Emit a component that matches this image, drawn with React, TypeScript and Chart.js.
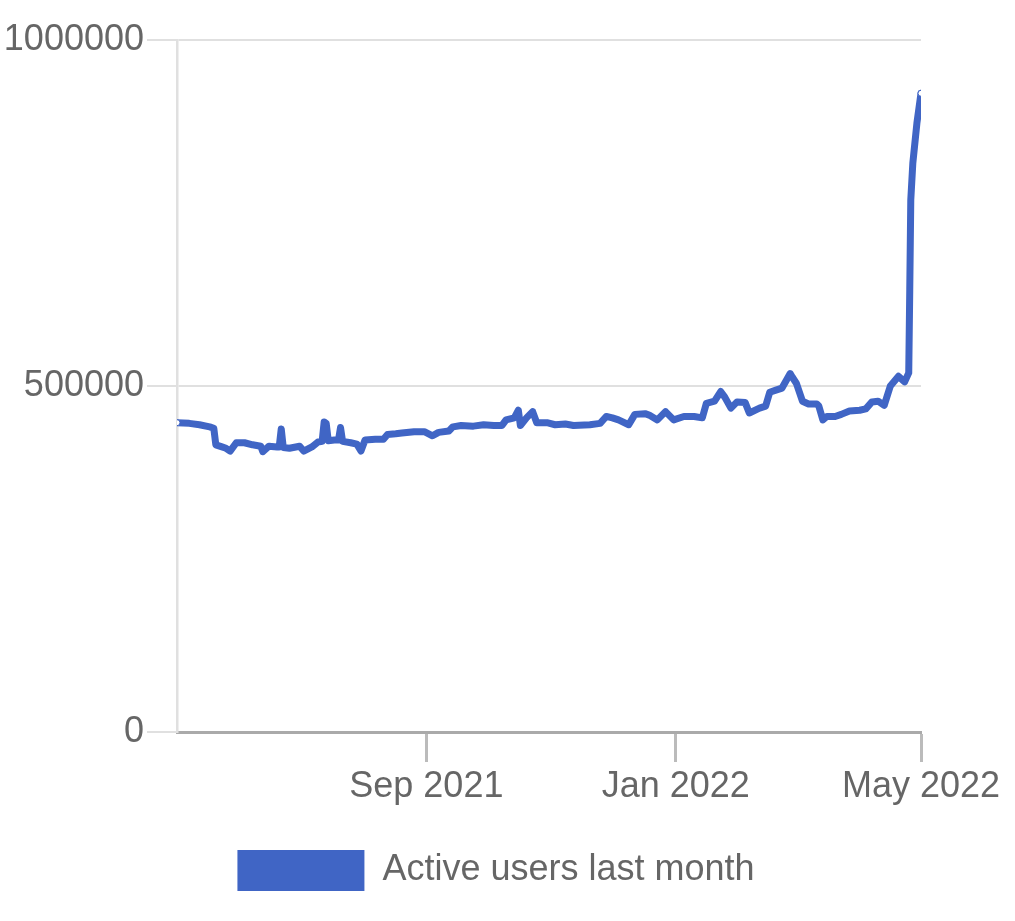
import React, { useEffect, useRef } from "react";
import { Chart, registerables } from "chart.js";

Chart.register(...registerables);

const seriesLabel = "Active users last month";

const dates: string[] = [
  "2021-05-02", "2021-05-08", "2021-05-13", "2021-05-18", "2021-05-20", "2021-05-21",
  "2021-05-24", "2021-05-26", "2021-05-28", "2021-05-31", "2021-06-04", "2021-06-08",
  "2021-06-12", "2021-06-13", "2021-06-16", "2021-06-20", "2021-06-21", "2021-06-22",
  "2021-06-23", "2021-06-26", "2021-07-01", "2021-07-03", "2021-07-07", "2021-07-10",
  "2021-07-12", "2021-07-13", "2021-07-14", "2021-07-15", "2021-07-18", "2021-07-20",
  "2021-07-21", "2021-07-22", "2021-07-26", "2021-07-29", "2021-07-31", "2021-08-02",
  "2021-08-07", "2021-08-11", "2021-08-13", "2021-08-17", "2021-08-20", "2021-08-26",
  "2021-08-31", "2021-09-04", "2021-09-07", "2021-09-12", "2021-09-14", "2021-09-18",
  "2021-09-24", "2021-09-29", "2021-10-04", "2021-10-08", "2021-10-10", "2021-10-14",
  "2021-10-16", "2021-10-17", "2021-10-20", "2021-10-23", "2021-10-25", "2021-10-30",
  "2021-11-03", "2021-11-08", "2021-11-12", "2021-11-20", "2021-11-25", "2021-11-28",
  "2021-12-01", "2021-12-04", "2021-12-09", "2021-12-12", "2021-12-17", "2021-12-19",
  "2021-12-23", "2021-12-27", "2021-12-31", "2022-01-05", "2022-01-10", "2022-01-14",
  "2022-01-16", "2022-01-20", "2022-01-23", "2022-01-25", "2022-01-28", "2022-01-31",
  "2022-02-04", "2022-02-06", "2022-02-11", "2022-02-14", "2022-02-16", "2022-02-19",
  "2022-02-22", "2022-02-26", "2022-02-27", "2022-03-01", "2022-03-04", "2022-03-07",
  "2022-03-11", "2022-03-12", "2022-03-14", "2022-03-16", "2022-03-20", "2022-03-23",
  "2022-03-27", "2022-04-01", "2022-04-04", "2022-04-07", "2022-04-10", "2022-04-13",
  "2022-04-16", "2022-04-20", "2022-04-23", "2022-04-25", "2022-04-25T12", "2022-04-26",
  "2022-04-27", "2022-04-29", "2022-05-01",
];

const activeUsers: number[] = [
  447000, 446000, 444000, 441000, 439000, 415000,
  412000, 410000, 406000, 418000, 418000, 415000,
  413000, 405000, 413000, 412000, 412000, 438000,
  411000, 410000, 413000, 406000, 412000, 419000,
  420000, 448000, 446000, 421000, 422000, 422000,
  440000, 420000, 418000, 416000, 406000, 422000,
  423000, 423000, 430000, 431000, 432000, 434000,
  434000, 428000, 433000, 435000, 441000, 443000,
  442000, 444000, 443000, 443000, 451000, 454000,
  465000, 443000, 454000, 463000, 447000, 447000,
  444000, 445000, 443000, 444000, 446000, 456000,
  454000, 451000, 444000, 459000, 460000, 458000,
  451000, 463000, 451000, 456000, 456000, 454000,
  475000, 478000, 492000, 484000, 468000, 477000,
  476000, 461000, 468000, 471000, 491000, 494000,
  497000, 518000, 513000, 504000, 478000, 474000,
  474000, 471000, 451000, 456000, 456000, 459000,
  464000, 465000, 467000, 477000, 478000, 472000,
  500000, 514000, 506000, 519000, 639000, 769000,
  822000, 880000, 923000,
];

const xTickDates: string[] = ["2021-09-01", "2022-01-01", "2022-05-01"];
const xTickLabels: string[] = ["Sep 2021", "Jan 2022", "May 2022"];
const yTickValues: number[] = [0, 500000, 1000000];

const lineColor = "#4065c5";
const textColor = "#666666";

function dayNum(s: string): number {
  const [d, t] = s.split("T");
  const [y, m, dd] = d.split("-").map(Number);
  const h = t ? Number(t.split(":")[0]) : 0;
  return Date.UTC(y, m - 1, dd, h) / 86400000;
}

const legendShift = {
  id: "legendShift",
  afterLayout(chart: any) {
    const lg = chart.legend;
    if (!lg) return;
    lg.left = 71;
  },
};

export default function App() {
  const ref = useRef<HTMLCanvasElement | null>(null);

  useEffect(() => {
    if (!ref.current) return;
    Chart.defaults.font.family = '"Liberation Sans", Arial, Helvetica, sans-serif';
    Chart.defaults.color = textColor;
    const points = dates.map((d, i) => ({ x: dayNum(d), y: activeUsers[i] }));
    const n = points.length;
    const xTickDays = xTickDates.map(dayNum);

    const chart = new Chart(ref.current, {
      type: "line",
      data: {
        datasets: [
          {
            label: seriesLabel,
            data: points,
            borderColor: lineColor,
            backgroundColor: lineColor,
            borderWidth: 7,
            borderJoinStyle: "round",
            borderCapStyle: "round",
            tension: 0,
            pointRadius: (ctx: any) => (ctx.dataIndex === 0 || ctx.dataIndex === n - 1 ? 3 : 0),
            pointBackgroundColor: "#ffffff",
            pointBorderColor: lineColor,
            pointBorderWidth: 1,
          },
        ],
      },
      options: {
        animation: false,
        responsive: true,
        maintainAspectRatio: false,
        events: [],
        layout: { padding: { left: 5, right: 94, top: 40, bottom: 20 } },
        scales: {
          x: {
            type: "linear",
            min: points[0].x,
            max: points[n - 1].x,
            afterBuildTicks: (scale: any) => {
              scale.ticks = xTickDays.map((v) => ({ value: v }));
            },
            afterFit: (scale: any) => {
              scale.height = 108;
            },
            ticks: {
              autoSkip: false,
              maxRotation: 0,
              padding: 3,
              color: textColor,
              font: { size: 36 },
              callback: (_v: any, i: number) => xTickLabels[i],
            },
            grid: {
              drawOnChartArea: false,
              drawTicks: true,
              tickLength: 30,
              tickColor: "#bbbbbb",
              tickWidth: 3,
            },
            border: { display: true, color: "#aaaaaa", width: 3 },
          },
          y: {
            type: "linear",
            min: 0,
            max: 1000000,
            afterBuildTicks: (scale: any) => {
              scale.ticks = yTickValues.map((v) => ({ value: v }));
            },
            afterFit: (scale: any) => {
              scale.width = 172;
            },
            ticks: {
              padding: 3,
              color: textColor,
              font: { size: 36 },
              callback: (v: any) => String(v),
            },
            grid: {
              color: "#e0e0e0",
              lineWidth: 2,
              drawTicks: true,
              tickLength: 30,
              tickColor: "#e0e0e0",
            },
            border: { display: true, color: "#e0e0e0", width: 2.5 },
          },
        },
        plugins: {
          legend: {
            display: true,
            position: "bottom",
            labels: {
              boxWidth: 127,
              boxHeight: 41,
              padding: 10,
              color: textColor,
              font: { size: 36 },
              generateLabels: (c: any) =>
                Chart.defaults.plugins.legend.labels
                  .generateLabels(c)
                  .map((it: any) => ({ ...it, lineWidth: 0, fillStyle: lineColor })),
            },
          },
          tooltip: { enabled: false },
        },
      } as any,
      plugins: [legendShift],
    });
    return () => chart.destroy();
  }, []);

  return (
    <div style={{ position: "absolute", left: 0, top: 0, width: 1015, height: 921 }}>
      <canvas ref={ref} />
    </div>
  );
}
